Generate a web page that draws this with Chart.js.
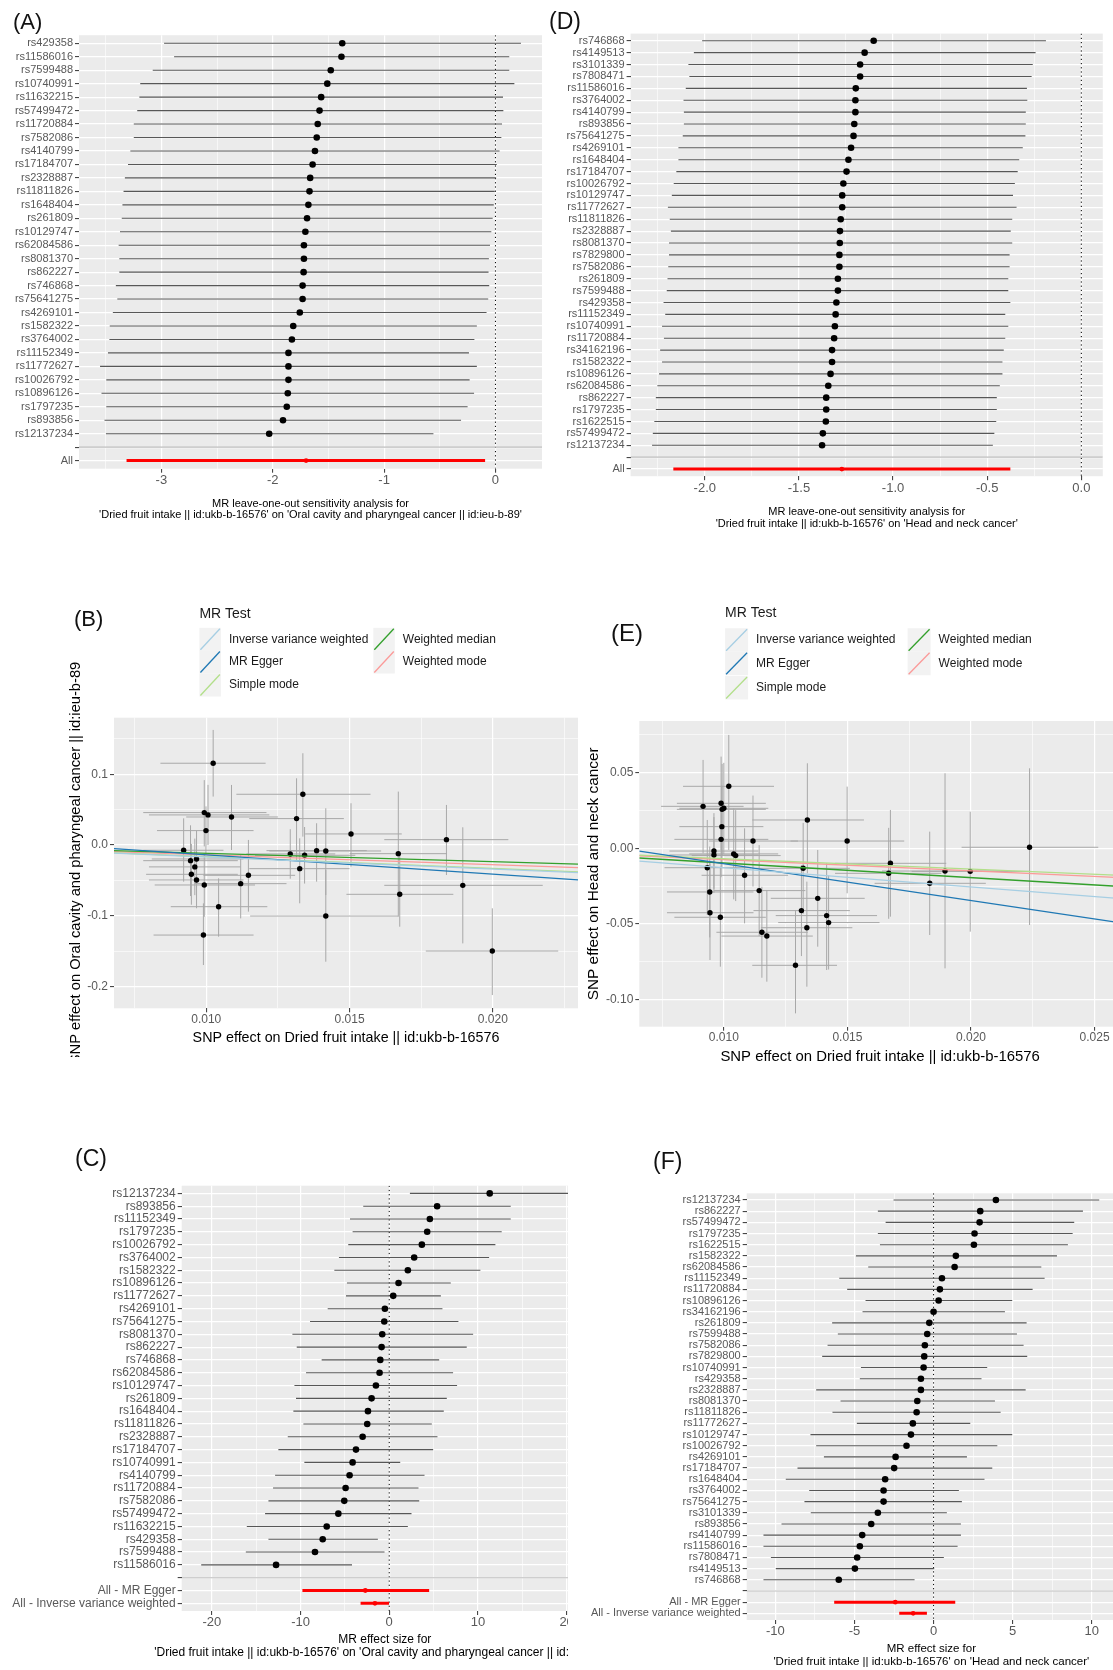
<!DOCTYPE html>
<html><head><meta charset="utf-8"><title>MR leave-one-out, scatter and single-SNP plots</title>
<script src="https://cdn.jsdelivr.net/npm/chart.js@4.4.1/dist/chart.umd.min.js"></script>
<style>
html,body{margin:0;padding:0;background:#fff;width:1113px;height:1670px;overflow:hidden;position:relative;}
.wrap{position:absolute;left:0;top:0;width:1140px;height:1670px;overflow:hidden;}
.wrap canvas{position:absolute;left:0;top:0;}
.plab{position:absolute;font-family:"Liberation Sans",Arial,sans-serif;color:#111;line-height:1;white-space:nowrap;}
</style></head>
<body>
<div class="wrap" id="wA"><canvas id="cA" width="1140" height="1670"></canvas></div>
<div class="wrap" id="wD"><canvas id="cD" width="1140" height="1670"></canvas></div>
<div class="wrap" id="wB" style="height:1057px"><canvas id="cB" width="1140" height="1670"></canvas></div>
<div class="wrap" id="wE"><canvas id="cE" width="1140" height="1670"></canvas></div>
<div class="wrap" id="wC" style="width:568px"><canvas id="cC" width="1140" height="1670"></canvas></div>
<div class="wrap" id="wF"><canvas id="cF" width="1140" height="1670"></canvas></div>
<div class="plab" style="left:13px;top:11px;font-size:22px">(A)</div>
<div class="plab" style="left:549px;top:10px;font-size:23px">(D)</div>
<div class="plab" style="left:74px;top:608px;font-size:22px">(B)</div>
<div class="plab" style="left:611px;top:621px;font-size:24px">(E)</div>
<div class="plab" style="left:75px;top:1147px;font-size:23px">(C)</div>
<div class="plab" style="left:653px;top:1150px;font-size:23px">(F)</div>
<script>
// ===================== DATA =====================
// (A) Leave-one-out: Oral cavity and pharyngeal cancer
const aSnps = ['rs429358','rs11586016','rs7599488','rs10740991','rs11632215','rs57499472','rs11720884','rs7582086','rs4140799','rs17184707','rs2328887','rs11811826','rs1648404','rs261809','rs10129747','rs62084586','rs8081370','rs862227','rs746868','rs75641275','rs4269101','rs1582322','rs3764002','rs11152349','rs11772627','rs10026792','rs10896126','rs1797235','rs893856','rs12137234'];
const aEst = [-1.376,-1.383,-1.479,-1.51,-1.565,-1.58,-1.596,-1.605,-1.621,-1.642,-1.664,-1.67,-1.68,-1.692,-1.707,-1.72,-1.72,-1.723,-1.732,-1.732,-1.757,-1.816,-1.828,-1.859,-1.859,-1.859,-1.865,-1.874,-1.908,-2.032];
const aLo = [-2.976,-2.886,-3.078,-3.19,-3.198,-3.217,-3.248,-3.248,-3.279,-3.30,-3.328,-3.34,-3.35,-3.356,-3.372,-3.384,-3.378,-3.378,-3.409,-3.396,-3.436,-3.464,-3.467,-3.48,-3.551,-3.495,-3.538,-3.495,-3.511,-3.498];
const aHi = [0.229,0.124,0.124,0.17,0.068,0.071,0.059,0.053,0.037,0.012,0.006,-0.006,-0.015,-0.025,-0.037,-0.049,-0.059,-0.062,-0.056,-0.065,-0.08,-0.167,-0.189,-0.238,-0.167,-0.232,-0.192,-0.25,-0.309,-0.557];
const aSumLabels = ['All'];
const aSumEst = [-1.701];
const aSumLo = [-3.313];
const aSumHi = [-0.093];
const aTicks = [-3.5,-3,-2.5,-2,-1.5,-1,-0.5,0];
const aMajor = [-3,-2,-1,0];

// (D) Leave-one-out: Head and neck cancer
const dSnps = ['rs746868','rs4149513','rs3101339','rs7808471','rs11586016','rs3764002','rs4140799','rs893856','rs75641275','rs4269101','rs1648404','rs17184707','rs10026792','rs10129747','rs11772627','rs11811826','rs2328887','rs8081370','rs7829800','rs7582086','rs261809','rs7599488','rs429358','rs11152349','rs10740991','rs11720884','rs34162196','rs1582322','rs10896126','rs62084586','rs862227','rs1797235','rs1622515','rs57499472','rs12137234'];
const dEst = [-1.103,-1.151,-1.175,-1.175,-1.198,-1.2,-1.2,-1.206,-1.21,-1.223,-1.237,-1.247,-1.264,-1.27,-1.27,-1.278,-1.282,-1.283,-1.285,-1.285,-1.293,-1.293,-1.301,-1.305,-1.309,-1.313,-1.324,-1.324,-1.332,-1.344,-1.355,-1.355,-1.357,-1.373,-1.377];
const dLo = [-2.014,-2.058,-2.087,-2.082,-2.101,-2.113,-2.111,-2.111,-2.117,-2.14,-2.14,-2.151,-2.165,-2.175,-2.196,-2.186,-2.18,-2.19,-2.19,-2.194,-2.198,-2.202,-2.219,-2.21,-2.227,-2.217,-2.237,-2.227,-2.243,-2.252,-2.26,-2.26,-2.268,-2.276,-2.28];
const dHi = [-0.188,-0.243,-0.258,-0.264,-0.289,-0.287,-0.295,-0.295,-0.297,-0.311,-0.33,-0.338,-0.353,-0.363,-0.344,-0.367,-0.375,-0.367,-0.381,-0.381,-0.388,-0.388,-0.377,-0.404,-0.388,-0.404,-0.412,-0.419,-0.419,-0.433,-0.449,-0.449,-0.452,-0.462,-0.47];
const dSumLabels = ['All'];
const dSumEst = [-1.272];
const dSumLo = [-2.167];
const dSumHi = [-0.377];
const dTicks = [-2.25,-2,-1.75,-1.5,-1.25,-1,-0.75,-0.5,-0.25,0];
const dMajor = [-2,-1.5,-1,-0.5,0];

// (C) Single SNP: Oral cavity and pharyngeal cancer
const cSnps = ['rs12137234','rs893856','rs11152349','rs1797235','rs10026792','rs3764002','rs1582322','rs10896126','rs11772627','rs4269101','rs75641275','rs8081370','rs862227','rs746868','rs62084586','rs10129747','rs261809','rs1648404','rs11811826','rs2328887','rs17184707','rs10740991','rs4140799','rs11720884','rs7582086','rs57499472','rs11632215','rs429358','rs7599488','rs11586016'];
const cEst = [11.33,5.40,4.58,4.28,3.68,2.81,2.10,1.05,0.45,-0.49,-0.56,-0.79,-0.86,-1.01,-1.09,-1.50,-1.99,-2.40,-2.48,-3.00,-3.75,-4.13,-4.47,-4.92,-5.07,-5.74,-7.05,-7.50,-8.37,-12.76];
const cLo = [2.33,-2.93,-4.43,-4.13,-4.62,-5.67,-6.19,-4.77,-4.88,-6.94,-8.93,-10.92,-10.43,-7.62,-9.38,-10.69,-10.51,-10.81,-9.68,-11.44,-12.50,-9.57,-12.87,-13.10,-13.62,-14.0,-16.06,-13.62,-16.17,-21.2];
const cHi = [20.3,13.70,13.70,12.68,11.97,11.26,10.28,6.94,5.82,6.00,7.80,9.46,8.74,5.63,7.20,7.65,6.49,6.15,4.80,5.44,4.95,1.24,3.98,3.30,3.38,2.51,2.10,-1.28,-0.53,-4.20];
const cSumLabels = ['All - MR Egger','All - Inverse variance weighted'];
const cSumEst = [-2.70,-1.61];
const cSumLo = [-9.79,-3.23];
const cSumHi = [4.50,-0.02];
const cTicks = [-20,-15,-10,-5,0,5,10,15,20];
const cMajor = [-20,-10,0,10,20];

// (F) Single SNP: Head and neck cancer
const fSnps = ['rs12137234','rs862227','rs57499472','rs1797235','rs1622515','rs1582322','rs62084586','rs11152349','rs11720884','rs10896126','rs34162196','rs261809','rs7599488','rs7582086','rs7829800','rs10740991','rs429358','rs2328887','rs8081370','rs11811826','rs11772627','rs10129747','rs10026792','rs4269101','rs17184707','rs1648404','rs3764002','rs75641275','rs3101339','rs893856','rs4140799','rs11586016','rs7808471','rs4149513','rs746868'];
const fEst = [3.94,2.95,2.91,2.59,2.55,1.41,1.33,0.53,0.40,0.32,0.0,-0.27,-0.40,-0.55,-0.59,-0.63,-0.80,-0.80,-1.03,-1.07,-1.31,-1.43,-1.71,-2.40,-2.49,-3.06,-3.16,-3.16,-3.52,-3.94,-4.51,-4.66,-4.83,-4.97,-5.99];
const fLo = [-2.53,-3.52,-3.03,-3.52,-3.39,-4.91,-4.13,-5.96,-5.46,-4.30,-4.49,-6.41,-6.05,-6.70,-7.04,-4.59,-4.66,-7.42,-5.88,-6.39,-4.85,-7.78,-7.42,-6.93,-8.60,-9.34,-7.86,-8.16,-7.76,-9.61,-10.75,-10.75,-10.28,-9.97,-10.75];
const fHi = [10.47,9.44,8.89,8.79,8.49,7.80,6.81,7.02,6.26,4.97,4.51,5.88,5.27,5.69,5.92,3.39,3.03,5.82,3.88,4.24,2.32,4.97,4.03,2.11,3.71,3.22,1.60,1.79,0.84,1.73,1.73,1.52,0.65,0.04,-1.20];
const fSumLabels = ['All - MR Egger','All - Inverse variance weighted'];
const fSumEst = [-2.42,-1.29];
const fSumLo = [-6.28,-2.17];
const fSumHi = [1.37,-0.42];
const fTicks = [-10,-7.5,-5,-2.5,0,2.5,5,7.5,10];
const fMajor = [-10,-5,0,5,10];

// MR methods (scatter plot lines)
const mrMethods = ['Inverse variance weighted','MR Egger','Simple mode','Weighted median','Weighted mode'];

// (B) Scatter: Oral cavity and pharyngeal cancer
const bX   = [0.01024,0.00993,0.01006,0.00999,0.01088,0.00921,0.00945,0.00966,0.00948,0.00966,0.00993,0.01043,0.0099,0.0112,0.01147,0.01293,0.01315,0.01337,0.01326,0.01343,0.01385,0.01417,0.01417,0.01505,0.0167,0.01675,0.01838,0.01895,0.01998,0.0096];
const bY   = [0.1156,0.0458,0.0425,0.0203,0.0396,-0.0075,-0.0222,-0.0198,-0.0415,-0.0495,-0.0566,-0.0873,-0.1274,-0.0547,-0.0429,-0.0127,0.0373,0.0717,-0.0335,-0.0146,-0.008,-0.0085,-0.1005,0.0156,-0.0123,-0.0698,0.0075,-0.0571,-0.150,-0.031];
const bYlo = [0.0684,-0.002,0.000,-0.014,-0.0071,-0.0519,-0.0722,-0.0598,-0.0845,-0.0895,-0.1016,-0.1297,-0.1698,-0.1038,-0.0943,-0.0477,-0.0212,0.0118,-0.0825,-0.0546,-0.0519,-0.0708,-0.1651,-0.0307,-0.1014,-0.1156,-0.0425,-0.1392,-0.2123,-0.071];
const bYhi = [0.1627,0.0917,0.085,0.0546,0.0849,0.0377,0.0278,0.0202,0.0015,-0.0095,-0.0116,-0.0472,-0.0826,-0.0142,0.0071,0.0223,0.0943,0.1297,0.0094,0.0254,0.0307,0.0519,-0.0354,0.059,0.0755,-0.0118,0.0566,0.025,-0.0896,0.009];
const bXlo = [0.0084,0.0078,0.0080,0.00828,0.0093,0.0078,0.0078,0.0081,0.0079,0.0080,0.0082,0.00876,0.00816,0.0096,0.0099,0.0114,0.0115,0.01105,0.0115,0.0117,0.0121,0.0122,0.01153,0.01345,0.0150,0.01489,0.01621,0.01621,0.01766,0.0080];
const bXhi = [0.01207,0.0121,0.0122,0.01165,0.0125,0.0106,0.0111,0.0113,0.0111,0.0113,0.0117,0.01213,0.01165,0.0128,0.0131,0.0145,0.0148,0.01573,0.0150,0.0152,0.0156,0.0161,0.0167,0.01682,0.0184,0.01862,0.02054,0.02174,0.02228,0.0112];
const bLineX  = [0.00678, 0.02297];
const bLineY0 = [-0.0115,-0.0052,-0.0112,-0.0080,-0.0094];
const bLineY1 = [-0.0390,-0.0495,-0.0380,-0.0270,-0.0320];

// (E) Scatter: Head and neck cancer
const eX   = [0.00916,0.00989,0.0100,0.00993,0.0102,0.00992,0.00989,0.0096,0.0096,0.00933,0.00943,0.00944,0.00986,0.0104,0.01048,0.01118,0.01084,0.01143,0.01154,0.01174,0.01338,0.01321,0.01314,0.01336,0.0138,0.0129,0.01416,0.01424,0.01499,0.01674,0.01667,0.01833,0.01895,0.01997,0.02237];
const eY   = [0.0277,0.0297,0.0264,0.0257,0.0409,0.0143,0.0059,-0.0018,-0.0044,-0.0128,-0.0288,-0.0425,-0.0455,-0.0037,-0.0048,0.0048,-0.0178,-0.0279,-0.0554,-0.0579,0.0187,-0.0132,-0.0411,-0.0524,-0.033,-0.0772,-0.0444,-0.049,0.0048,-0.0099,-0.0165,-0.0231,-0.015,-0.0152,0.0007];
const eYlo = [-0.0033,-0.0011,-0.004,-0.005,-0.0011,-0.0127,-0.0191,-0.0268,-0.0294,-0.044,-0.0588,-0.0737,-0.0781,-0.0337,-0.0348,-0.0252,-0.0495,-0.0579,-0.0854,-0.088,-0.0165,-0.0432,-0.0711,-0.0913,-0.0649,-0.1089,-0.0803,-0.080,-0.0297,-0.0451,-0.0465,-0.0572,-0.0792,-0.055,-0.0506];
const eYhi = [0.0583,0.0605,0.0564,0.0557,0.0748,0.0413,0.0309,0.0232,0.0206,0.0187,0.0012,-0.0099,-0.0121,0.0263,0.0252,0.0348,0.0132,0.0021,-0.0254,-0.0275,0.0561,0.0168,-0.0111,-0.022,-0.0011,-0.0407,-0.0099,-0.018,0.0407,0.0253,0.0135,0.011,0.0495,0.0242,0.0528];
const eXlo = [0.00746,0.0081,0.0082,0.0081,0.00835,0.0082,0.0080,0.0078,0.0078,0.0076,0.0077,0.0077,0.0080,0.0086,0.0087,0.0094,0.0091,0.0096,0.0097,0.0099,0.01115,0.0113,0.0112,0.0115,0.0119,0.01115,0.0121,0.0122,0.0127,0.0145,0.0145,0.0161,0.0164,0.0176,0.01962];
const eXhi = [0.0108,0.0117,0.0118,0.0117,0.01203,0.0116,0.0118,0.0114,0.0114,0.0111,0.0112,0.0112,0.0117,0.0122,0.0123,0.0130,0.0126,0.0133,0.0134,0.0136,0.01567,0.0151,0.0151,0.0152,0.0157,0.01458,0.0162,0.0163,0.0173,0.0190,0.0188,0.0206,0.0215,0.0224,0.02515];
const eLineX  = [0.00658, 0.02607];
const eLineY0 = [-0.0084,-0.0019,-0.0045,-0.0064,-0.0049];
const eLineY1 = [-0.0332,-0.0492,-0.0178,-0.0252,-0.0193];

const bXTicks = [0.0075,0.010,0.0125,0.015,0.0175,0.020,0.0225];
const bXMajor = [0.010,0.015,0.020];
const bYTicks = [-0.2,-0.15,-0.1,-0.05,0,0.05,0.1,0.15];
const bYMajor = [-0.2,-0.1,0,0.1];
const eXTicks = [0.0075,0.010,0.0125,0.015,0.0175,0.020,0.0225,0.025];
const eXMajor = [0.010,0.015,0.020,0.025];
const eYTicks = [-0.1,-0.075,-0.05,-0.025,0,0.025,0.05,0.075];
const eYMajor = [-0.1,-0.05,0,0.05];

// ===================== STYLE / HELPERS =====================
const FONT = '"Liberation Sans", Arial, Helvetica, sans-serif';
Chart.defaults.font.family = FONT;
const CW = 1140, CH = 1670, XH = 30;
const methodColors = ['#A6CEE3','#1F78B4','#B2DF8A','#33A02C','#FB9A99'];
const TICKCOL = '#595959';

function near(v, list){ return list.some(m => Math.abs(v - m) < 1e-9); }

const bgPlugin = { id:'ggBg', beforeDraw(chart){ const a = chart.chartArea, c = chart.ctx; c.save(); c.fillStyle = '#EBEBEB'; c.fillRect(a.left, a.top, a.right - a.left, a.bottom - a.top); c.restore(); } };

function textPlugin(items){
  return { id:'ggText', afterDraw(chart){
    const c = chart.ctx;
    items.forEach(t => {
      c.save(); c.translate(t.x, t.y); if (t.rot) c.rotate(t.rot);
      c.font = t.size + 'px ' + FONT; c.fillStyle = t.color || '#000';
      c.textAlign = t.align || 'center'; c.textBaseline = 'middle';
      c.fillText(t.text, 0, 0); c.restore();
    });
  }};
}

function legendPlugin(L){
  return { id:'ggLegend', afterDraw(chart){
    const c = chart.ctx;
    c.save();
    c.fillStyle = '#1a1a1a'; c.font = '14px ' + FONT; c.textAlign = 'left'; c.textBaseline = 'middle';
    c.fillText('MR Test', L.x, L.titleY);
    const sets = chart.data.datasets.filter(d => d.isMethod);
    sets.forEach((d, i) => {
      const col = Math.floor(i / 3), row = i % 3;
      const kx = L.colX[col], ky = L.rowY[row] - L.keyH / 2;
      c.fillStyle = '#F2F2F2'; c.fillRect(kx, ky, L.keyW, L.keyH);
      c.strokeStyle = d.borderColor; c.lineWidth = 1.3;
      c.beginPath(); c.moveTo(kx + 1, ky + L.keyH - 1); c.lineTo(kx + L.keyW - 1, ky + 1); c.stroke();
      c.fillStyle = '#1a1a1a'; c.font = '12px ' + FONT;
      c.fillText(d.label, kx + L.textDx, L.rowY[row]);
    });
    c.restore();
  }};
}

function xScale(min, max, ticks, major, fmt, fontSize){
  return {
    type:'linear', min:min, max:max, border:{display:false},
    afterBuildTicks: s => { s.ticks = ticks.filter(v => v >= min && v <= max).map(v => ({value:v})); },
    afterFit: s => { s.height = XH; s.paddingLeft = 0; s.paddingRight = 0; },
    grid: { color:'#FFFFFF', lineWidth: c => (c.tick && near(c.tick.value, major)) ? 1.2 : 0.6,
            tickColor: c => (c.tick && near(c.tick.value, major)) ? '#333333' : 'rgba(0,0,0,0)',
            tickLength:4, tickWidth:1 },
    ticks: { autoSkip:false, maxRotation:0, padding:0, color:TICKCOL, font:{size:fontSize, family:FONT},
             callback: v => near(v, major) ? fmt(v) : '' }
  };
}

function makeForest(id, P){
  const labels = P.snps.concat([''], P.sumLabels);
  const n = labels.length, blank = P.snps.length;
  const yw = Math.min(P.L - 2, 230);
  const seg = [], segS = [];
  P.snps.forEach((_, i) => { seg.push({x:P.lo[i], y:i}, {x:P.hi[i], y:i}, {x:null, y:null}); });
  P.sumLabels.forEach((_, j) => { const r = blank + 1 + j; segS.push({x:P.sumLo[j], y:r}, {x:P.sumHi[j], y:r}, {x:null, y:null}); });
  const pts = P.est.map((v, i) => ({x:v, y:i}));
  const ptsS = P.sumEst.map((v, j) => ({x:v, y:blank + 1 + j}));
  const yMin = -0.6, yMax = n - 1 + 0.6;
  const cx = (P.L + P.R) / 2;
  new Chart(document.getElementById(id), {
    type:'scatter',
    data:{ datasets:[
      {type:'line', data:[{x:P.xMin, y:blank},{x:P.xMax, y:blank}], borderColor:'#BEBEBE', borderWidth:1.1, pointRadius:0, order:0},
      {data:pts, pointRadius:3.3, pointBackgroundColor:'#000', pointBorderWidth:0, order:1},
      {data:ptsS, pointRadius:2.4, pointBackgroundColor:'#FF0000', pointBorderWidth:0, order:2},
      {type:'line', data:segS, borderColor:'#FF0000', borderWidth:3, pointRadius:0, order:3},
      {type:'line', data:seg, borderColor:'#575757', borderWidth:1.1, pointRadius:0, order:4},
      {type:'line', data:[{x:0, y:yMin},{x:0, y:yMax}], borderColor:'#000', borderWidth:1, borderDash:[1.2,3], pointRadius:0, order:5}
    ]},
    options:{
      animation:false, responsive:false, devicePixelRatio:1, events:[],
      layout:{ padding:{ left:P.L - yw, top:P.T, right:CW - P.R, bottom:CH - P.B - XH } },
      plugins:{ legend:{display:false}, tooltip:{enabled:false} },
      scales:{
        x: xScale(P.xMin, P.xMax, P.ticks, P.major, P.fmt, P.xFont),
        y: { type:'linear', reverse:true, min:yMin, max:yMax, border:{display:false},
             afterBuildTicks: s => { s.ticks = labels.map((_, i) => ({value:i})); },
             afterFit: s => { s.width = yw; s.paddingTop = 0; s.paddingBottom = 0; },
             grid:{ color:'#FFFFFF', lineWidth:1.2, tickColor:'#333333', tickLength:4, tickWidth:1 },
             ticks:{ autoSkip:false, padding:2, color:TICKCOL, font:{size:P.yFont, family:FONT}, callback: v => labels[v] } }
      }
    },
    plugins:[bgPlugin, textPlugin(P.titles.map((t, k) => ({text:t, x:cx, y:P.titleY[k], size:P.titleSize})))]
  });
}

function makeScatter(id, S){
  const pts = S.x.map((v, i) => ({x:v, y:S.y[i]}));
  const vbar = [], hbar = [];
  S.x.forEach((v, i) => {
    vbar.push({x:v, y:S.ylo[i]}, {x:v, y:S.yhi[i]}, {x:null, y:null});
    hbar.push({x:S.xlo[i], y:S.y[i]}, {x:S.xhi[i], y:S.y[i]}, {x:null, y:null});
  });
  const lines = mrMethods.map((m, k) => ({type:'line', label:m, isMethod:true,
    data:[{x:S.lineX[0], y:S.lineY0[k]}, {x:S.lineX[1], y:S.lineY1[k]}],
    borderColor:methodColors[k], borderWidth:1.3, pointRadius:0, order:0}));
  const cx = (S.L + S.R) / 2, cy = (S.T + S.B) / 2;
  const yw = 60;
  new Chart(document.getElementById(id), {
    type:'scatter',
    data:{ datasets: lines.concat([
      {data:pts, pointRadius:2.7, pointBackgroundColor:'#000', pointBorderWidth:0, order:1},
      {type:'line', data:hbar, borderColor:'#A8A8A8', borderWidth:1, pointRadius:0, order:2},
      {type:'line', data:vbar, borderColor:'#A8A8A8', borderWidth:1, pointRadius:0, order:3}
    ])},
    options:{
      animation:false, responsive:false, devicePixelRatio:1, events:[],
      layout:{ padding:{ left:S.L - yw, top:S.T, right:CW - S.R, bottom:CH - S.B - XH } },
      plugins:{ legend:{display:false}, tooltip:{enabled:false} },
      scales:{
        x: xScale(S.xMin, S.xMax, S.xTicks, S.xMajor, v => v.toFixed(3), 12),
        y: { type:'linear', min:S.yMin, max:S.yMax, border:{display:false},
             afterBuildTicks: s => { s.ticks = S.yTicks.filter(v => v >= S.yMin && v <= S.yMax).map(v => ({value:v})); },
             afterFit: s => { s.width = yw; s.paddingTop = 0; s.paddingBottom = 0; },
             grid:{ color:'#FFFFFF', lineWidth: c => (c.tick && near(c.tick.value, S.yMajor)) ? 1.2 : 0.6,
                    tickColor: c => (c.tick && near(c.tick.value, S.yMajor)) ? '#333333' : 'rgba(0,0,0,0)', tickLength:4, tickWidth:1 },
             ticks:{ autoSkip:false, padding:2, color:TICKCOL, font:{size:12, family:FONT},
                     callback: v => near(v, S.yMajor) ? v.toFixed(S.yDec) : '' } }
      }
    },
    plugins:[bgPlugin,
      textPlugin([{text:S.xTitle, x:cx, y:S.xTitleY, size:S.xTitleSize},
                  {text:S.yTitle, x:S.yTitleX, y:cy, size:S.yTitleSize, rot:-Math.PI/2}]),
      legendPlugin(S.legend)]
  });
}

// ===================== BUILD =====================
makeForest('cA', { snps:aSnps, est:aEst, lo:aLo, hi:aHi, sumLabels:aSumLabels, sumEst:aSumEst, sumLo:aSumLo, sumHi:aSumHi,
  ticks:aTicks, major:aMajor, fmt:v => String(v), xMin:-3.74, xMax:0.418,
  L:79, T:35.2, R:542, B:468.7, yFont:11, xFont:13, titleSize:11,
  titles:['MR leave-one-out sensitivity analysis for', "'Dried fruit intake || id:ukb-b-16576' on 'Oral cavity and pharyngeal cancer || id:ieu-b-89'"],
  titleY:[503.5, 515] });

makeForest('cD', { snps:dSnps, est:dEst, lo:dLo, hi:dHi, sumLabels:dSumLabels, sumEst:dSumEst, sumLo:dSumLo, sumHi:dSumHi,
  ticks:dTicks, major:dMajor, fmt:v => v.toFixed(1), xMin:-2.394, xMax:0.114,
  L:630.6, T:33.6, R:1102.8, B:476.2, yFont:11, xFont:13, titleSize:11,
  titles:['MR leave-one-out sensitivity analysis for', "'Dried fruit intake || id:ukb-b-16576' on 'Head and neck cancer'"],
  titleY:[512, 524] });

makeForest('cC', { snps:cSnps, est:cEst, lo:cLo, hi:cHi, sumLabels:cSumLabels, sumEst:cSumEst, sumLo:cSumLo, sumHi:cSumHi,
  ticks:cTicks, major:cMajor, fmt:v => String(v), xMin:-23.4, xMax:22.4,
  L:181.7, T:1185.7, R:587.9, B:1611, yFont:12, xFont:13, titleSize:12,
  titles:['MR effect size for', "'Dried fruit intake || id:ukb-b-16576' on 'Oral cavity and pharyngeal cancer || id:ieu-b-89'"],
  titleY:[1639.3, 1652.3] });

makeForest('cF', { snps:fSnps, est:fEst, lo:fLo, hi:fHi, sumLabels:fSumLabels, sumEst:fSumEst, sumLo:fSumLo, sumHi:fSumHi,
  ticks:fTicks, major:fMajor, fmt:v => String(v), xMin:-11.81, xMax:11.53,
  L:746.7, T:1193.3, R:1116, B:1620, yFont:11, xFont:13, titleSize:11.5,
  titles:['MR effect size for', "'Dried fruit intake || id:ukb-b-16576' on 'Head and neck cancer'"],
  titleY:[1649, 1661.7] });

makeScatter('cB', { x:bX, y:bY, ylo:bYlo, yhi:bYhi, xlo:bXlo, xhi:bXhi, lineX:bLineX, lineY0:bLineY0, lineY1:bLineY1,
  xMin:0.00678, xMax:0.02297, yMin:-0.231, yMax:0.180, xTicks:bXTicks, xMajor:bXMajor, yTicks:bYTicks, yMajor:bYMajor, yDec:1,
  L:114, T:717.7, R:578, B:1008.3,
  xTitle:'SNP effect on Dried fruit intake || id:ukb-b-16576', xTitleY:1038.3, xTitleSize:14.3,
  yTitle:'SNP effect on Oral cavity and pharyngeal cancer || id:ieu-b-89', yTitleX:76.2, yTitleSize:14.7,
  legend:{ x:199.4, titleY:614, colX:[199.4, 373.3], rowY:[639.3, 662, 685], keyW:21.5, keyH:23, textDx:29.5 } });

makeScatter('cE', { x:eX, y:eY, ylo:eYlo, yhi:eYhi, xlo:eXlo, xhi:eXhi, lineX:eLineX, lineY0:eLineY0, lineY1:eLineY1,
  xMin:0.00658, xMax:0.02607, yMin:-0.1177, yMax:0.084, xTicks:eXTicks, xMajor:eXMajor, yTicks:eYTicks, yMajor:eYMajor, yDec:2,
  L:639.3, T:721, R:1121, B:1026.7,
  xTitle:'SNP effect on Dried fruit intake || id:ukb-b-16576', xTitleY:1057, xTitleSize:14.9,
  yTitle:'SNP effect on Head and neck cancer', yTitleX:593.5, yTitleSize:15.4,
  legend:{ x:725.1, titleY:613.3, colX:[725.1, 907.6], rowY:[640, 663.5, 687.7], keyW:23, keyH:23.5, textDx:31 } });
</script>
</body></html>
